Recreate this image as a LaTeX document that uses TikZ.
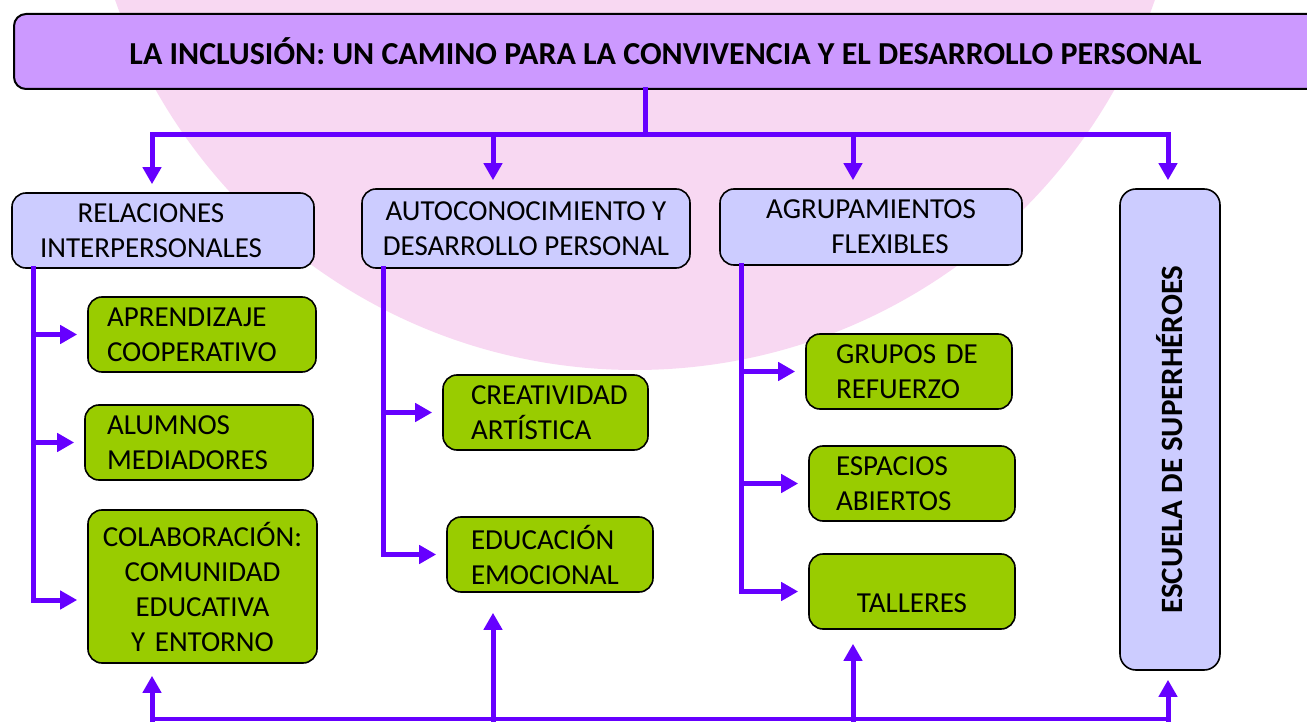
\documentclass[tikz,border=0pt]{standalone}
\usepackage{fontspec}
\setmainfont{Carlito}
\usetikzlibrary{arrows.meta}
\definecolor{titlefill}{HTML}{CC99FF}
\definecolor{headfill}{HTML}{CCCCFF}
\definecolor{leaffill}{HTML}{99CC00}
\definecolor{linkcol}{HTML}{6600FF}
\definecolor{blush}{HTML}{F8D8F2}
\begin{document}
\begin{tikzpicture}[
    x=1pt, y=-1pt,
    box/.style={draw, line width=1.6pt, rounded corners=14pt, inner sep=0pt},
    headbox/.style={box, fill=headfill, align=center, font=\fontsize{29}{35}\selectfont},
    leafbox/.style={box, fill=leaffill, align=left, font=\fontsize{29}{35}\selectfont},
    link/.style={linkcol, line width=5pt, line cap=rect},
    tip/.style={link, -{Triangle[width=18pt,length=17pt]}}
    ]
  \path[use as bounding box, clip] (0,0) rectangle (1307,722);
  \fill[blush] (635,-180) circle[radius=550];

  \node[box, fill=titlefill, line width=2pt, rounded corners=12pt, minimum width=1316pt, minimum height=75pt,
        font=\bfseries\fontsize{32}{36}\selectfont] (title) at (672,51.5)
        {LA INCLUSIÓN: UN CAMINO PARA LA CONVIVENCIA Y EL DESARROLLO PERSONAL\hspace*{13pt}};

  \node[headbox, minimum width=302pt, minimum height=75pt] (rel) at (163,230.5)
        {RELACIONES\hspace*{24pt}\\INTERPERSONALES\hspace*{24pt}};
  \node[headbox, minimum width=328pt, minimum height=79pt] (auto) at (526,228.5)
        {AUTOCONOCIMIENTO Y\\DESARROLLO PERSONAL};
  \node[headbox, minimum width=302pt, minimum height=76pt] (agr) at (871,227)
        {AGRUPAMIENTOS\\\hspace*{38pt}FLEXIBLES};
  \node[headbox, rotate=90, rounded corners=16pt, minimum width=481pt, minimum height=100pt,
        font=\bfseries\fontsize{31}{36}\selectfont] (esc) at (1170,429.5)
        {ESCUELA DE SUPERHÉROES\hspace*{20pt}};

  \node[leafbox, minimum width=228pt, minimum height=75pt, text width=190pt] (coop) at (202,334.5)
        {APRENDIZAJE\\COOPERATIVO};
  \node[leafbox, minimum width=228pt, minimum height=75pt, text width=184pt] (alum) at (199,442.5)
        {ALUMNOS\\MEDIADORES};
  \node[leafbox, align=center, minimum width=229pt, minimum height=153pt, text width=215pt] (colab) at (202.5,586.5)
        {COLABORACIÓN:\\COMUNIDAD\\EDUCATIVA\\Y ENTORNO};
  \node[leafbox, minimum width=205pt, minimum height=75pt, text width=149pt] (creat) at (545.5,412.5)
        {CREATIVIDAD\\ARTÍSTICA};
  \node[leafbox, minimum width=206pt, minimum height=75pt, text width=158pt] (educ) at (550,554.5)
        {EDUCACIÓN\\EMOCIONAL};
  \node[leafbox, minimum width=206pt, minimum height=75pt, text width=146pt] (grup) at (909,371.5)
        {GRUPOS DE\\REFUERZO};
  \node[leafbox, minimum width=206pt, minimum height=75pt, text width=152pt] (esp) at (912,483.5)
        {ESPACIOS\\ABIERTOS};
  \node[leafbox, align=center, minimum width=206pt, minimum height=75pt, text width=152pt] (tall) at (912,591.5)
        {\raisebox{-12pt}[\height][\depth]{TALLERES}};

  \coordinate (hub) at (645,135);
  \coordinate (b1) at (152,135);
  \coordinate (b2) at (493,135);
  \coordinate (b3) at (853,135);
  \coordinate (b4) at (1168,135);
  \draw[link] (title.south -| hub) -- (hub);
  \draw[link] (b1) -- (b4);
  \foreach \b/\n in {b1/rel.north, b2/auto.north, b3/agr.north, b4/esc.east}
    \draw[tip, shorten >=8pt] (\b) -- (\b |- \n);

  \coordinate (ta) at (33,0);
  \coordinate (tacol) at ([yshift=-13.5pt]colab.west);
  \draw[link] (rel.south -| ta) -- (ta |- tacol);
  \foreach \n in {coop, alum}
    \draw[tip, shorten >=10pt] (ta |- \n.west) -- (\n.west);
  \draw[tip, shorten >=10pt] (ta |- tacol) -- (tacol);

  \coordinate (tb) at (383,0);
  \draw[link] (auto.south -| tb) -- (tb |- educ.west);
  \foreach \n in {creat, educ}
    \draw[tip, shorten >=10pt] (tb |- \n.west) -- (\n.west);

  \coordinate (tc) at (741,0);
  \draw[link] (agr.south -| tc) -- (tc |- tall.west);
  \foreach \n in {grup, esp, tall}
    \draw[tip, shorten >=10pt] (tc |- \n.west) -- (\n.west);

  \coordinate (u1) at (152,719);
  \coordinate (u2) at (493,719);
  \coordinate (u3) at (853,719);
  \coordinate (u4) at (1168,719);
  \draw[link, line width=4pt] (u1) -- (u4);
  \foreach \u/\n/\s in {u1/colab.south/12, u2/educ.south/20, u3/tall.south/14, u4/esc.west/9}
    \draw[tip, shorten >=\s pt] (\u) -- (\u |- \n);
\end{tikzpicture}
\end{document}
